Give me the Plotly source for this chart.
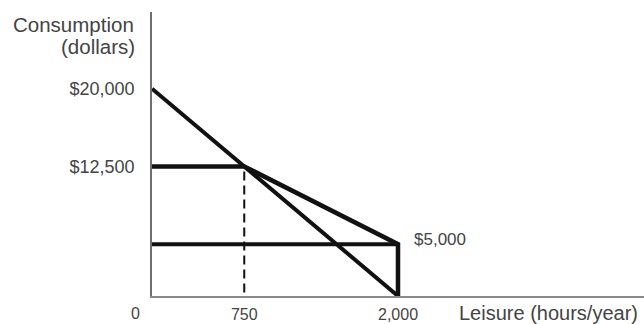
import plotly.graph_objects as go

# Data
budget_x = [0, 2000]
budget_y = [20000, 0]
kinked_x = [0, 750, 2000, 2000]
kinked_y = [12500, 12500, 5000, 0]
floor_x = [0, 2000]
floor_y = [5000, 5000]
dash_x = [750, 750]
dash_y = [12000, 0]
x_tickvals = [750, 2000]
x_ticktext = ["750", "2,000"]
y_tickvals = [20000, 12500]
y_ticktext = ["$20,000", "$12,500"]
label_5000 = "$5,000"

INK = "#111111"
TXT = "#444444"
FONT = "Liberation Sans, Arial, sans-serif"

fig = go.Figure()
fig.add_trace(go.Scatter(x=floor_x, y=floor_y, mode="lines",
                         line=dict(color=INK, width=4), hoverinfo="skip"))
fig.add_trace(go.Scatter(x=budget_x, y=budget_y, mode="lines",
                         line=dict(color=INK, width=4), hoverinfo="skip"))
fig.add_trace(go.Scatter(x=kinked_x, y=kinked_y, mode="lines",
                         line=dict(color=INK, width=4.5), hoverinfo="skip"))
fig.add_trace(go.Scatter(x=dash_x, y=dash_y, mode="lines",
                         line=dict(color=INK, width=2, dash="9px,5px"), hoverinfo="skip"))

fig.add_annotation(x=2000, y=5000, text=label_5000, showarrow=False,
                   xanchor="left", yanchor="middle", xshift=14, yshift=5,
                   font=dict(size=17, color=TXT, family=FONT))
fig.add_annotation(x=0, y=0, text="0", showarrow=False,
                   xanchor="center", yanchor="top", xshift=-17, yshift=-7,
                   font=dict(size=16, color=TXT, family=FONT))
fig.add_annotation(xref="paper", yref="paper", x=-0.032, y=0.956,
                   text="Consumption", showarrow=False,
                   xanchor="right", yanchor="middle", align="right",
                   font=dict(size=20.5, color=TXT, family=FONT))
fig.add_annotation(xref="paper", yref="paper", x=-0.03, y=0.878,
                   text="(dollars)", showarrow=False,
                   xanchor="right", yanchor="middle", align="right",
                   font=dict(size=20.5, color=TXT, family=FONT))
fig.add_annotation(xref="paper", yref="paper", x=0.62, y=-0.06,
                   text="Leisure (hours/year)", showarrow=False,
                   xanchor="left", yanchor="middle", align="left",
                   font=dict(size=20, color=TXT, family=FONT))

fig.update_layout(
    width=644, height=324,
    margin=dict(l=152, r=0, t=12, b=28),
    paper_bgcolor="white", plot_bgcolor="white",
    showlegend=False,
    font=dict(family=FONT, color=TXT),
    xaxis=dict(range=[0, 4000], showgrid=False, zeroline=False, automargin=False,
               showline=True, linecolor="#8a8a8a", linewidth=2,
               tickvals=x_tickvals, ticktext=x_ticktext,
               ticks="outside", ticklen=3, tickcolor="rgba(0,0,0,0)",
               tickfont=dict(size=16, color=TXT, family=FONT)),
    yaxis=dict(range=[0, 27400], showgrid=False, zeroline=False, automargin=False,
               showline=True, linecolor="#6f6f6f", linewidth=1.5,
               tickvals=y_tickvals, ticktext=y_ticktext,
               ticks="outside", ticklen=12, tickcolor="rgba(0,0,0,0)",
               tickfont=dict(size=18, color=TXT, family=FONT)),
)

fig.write_html("out.html", config={"displayModeBar": False},
               post_script="document.body.style.margin='0';document.body.style.overflow='hidden';")
